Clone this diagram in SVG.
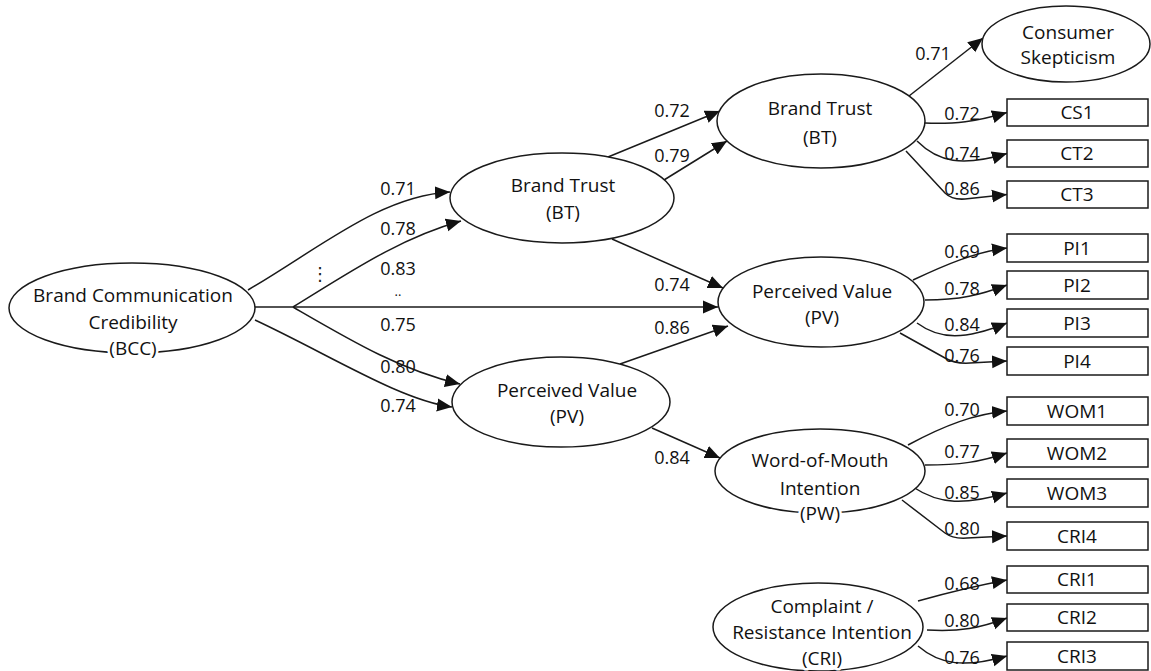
<svg xmlns="http://www.w3.org/2000/svg" width="1151" height="671" viewBox="0 0 1151 671">
<style>
.n ellipse,.n rect{fill:#fff;stroke:#1a1a1a;stroke-width:1.5}
.t{font-family:"Open Sans","Noto Sans",sans-serif;font-size:19px;fill:#111;text-anchor:middle}
.h{stroke:#fff;stroke-width:5;paint-order:stroke;stroke-linejoin:round}
.c path{fill:none;stroke:#1a1a1a;stroke-width:1.5}
.l{font-family:"Open Sans","Noto Sans",sans-serif;font-size:18px;fill:#111;text-anchor:middle}
</style>
<defs>
<marker id="ah" markerUnits="userSpaceOnUse" markerWidth="16" markerHeight="14" refX="15" refY="7" orient="auto">
<path d="M0,0.5 L15,7 L0,13.5 z" fill="#111"/>
</marker>
</defs>
<rect width="1151" height="671" fill="#fff"/>

<g id="connectors" class="c">
<path d="M248,290 C320,248 380,196 450,192" marker-end="url(#ah)"/>
<path d="M293,307 C350,272 400,238 461,221" marker-end="url(#ah)"/>
<path d="M255,307 L718,307" marker-end="url(#ah)"/>
<path d="M293,307 C350,340 400,370 460,384" marker-end="url(#ah)"/>
<path d="M255,320 C330,355 400,400 452,407" marker-end="url(#ah)"/>
<path d="M608,157 L720,111" marker-end="url(#ah)"/>
<path d="M664,180 L727,141" marker-end="url(#ah)"/>
<path d="M612,239 L723,288" marker-end="url(#ah)"/>
<path d="M620,364 L728,326" marker-end="url(#ah)"/>
<path d="M652,428 L720,458" marker-end="url(#ah)"/>
<path d="M909,96 L983,38" marker-end="url(#ah)"/>
<path d="M925,123 C955,124 975,122 1007,112.5" marker-end="url(#ah)"/>
<path d="M917,141 C938,162 962,167 1007,153.5" marker-end="url(#ah)"/>
<path d="M906,151 L945,193 Q952,200 965,199 L1007,194.5" marker-end="url(#ah)"/>
<path d="M913,280 C945,265 975,252 1007,248" marker-end="url(#ah)"/>
<path d="M925,300 C960,300 980,295 1007,285" marker-end="url(#ah)"/>
<path d="M917,323 C940,340 965,340 1007,323" marker-end="url(#ah)"/>
<path d="M900,333 L945,358 Q955,364 970,363 L1007,361" marker-end="url(#ah)"/>
<path d="M908,445 C945,425 975,414 1007,411" marker-end="url(#ah)"/>
<path d="M925,465 C960,465 980,462 1007,453" marker-end="url(#ah)"/>
<path d="M913,487 C940,505 965,505 1007,493" marker-end="url(#ah)"/>
<path d="M902,500 L945,533 Q953,539 967,538 L1007,536" marker-end="url(#ah)"/>
<path d="M918,601 C950,592 980,585 1007,580" marker-end="url(#ah)"/>
<path d="M927,630 C960,632 980,628 1007,618" marker-end="url(#ah)"/>
<path d="M918,646 C940,665 965,668 1007,656" marker-end="url(#ah)"/>
</g>

<g id="labels">
<text class="l" x="398" y="195">0.71</text>
<text class="l" x="398" y="235">0.78</text>
<text class="l" x="398" y="275">0.83</text>
<text class="l" x="398" y="296" style="font-size:13px">..</text>
<text class="l" x="398" y="331">0.75</text>
<text class="l" x="398" y="373">0.80</text>
<text class="l" x="398" y="412">0.74</text>
<text x="320" y="280" style="font-family:'DejaVu Sans',sans-serif;font-size:18px;fill:#1a1a1a;text-anchor:middle">⋮</text>
<text class="l" x="672" y="117">0.72</text>
<text class="l" x="672" y="162">0.79</text>
<text class="l" x="672" y="291">0.74</text>
<text class="l" x="672" y="334">0.86</text>
<text class="l" x="672" y="464">0.84</text>
<text class="l" x="933" y="60">0.71</text>
<text class="l" x="962" y="120">0.72</text>
<text class="l" x="962" y="160">0.74</text>
<text class="l" x="962" y="195">0.86</text>
<text class="l" x="962" y="258">0.69</text>
<text class="l" x="962" y="295">0.78</text>
<text class="l" x="962" y="331">0.84</text>
<text class="l" x="962" y="362">0.76</text>
<text class="l" x="962" y="416">0.70</text>
<text class="l" x="962" y="458">0.77</text>
<text class="l" x="962" y="499">0.85</text>
<text class="l" x="962" y="535">0.80</text>
<text class="l" x="962" y="590">0.68</text>
<text class="l" x="962" y="627">0.80</text>
<text class="l" x="962" y="664">0.76</text>
</g>

<g id="BCC" class="n">
<ellipse cx="132" cy="308" rx="123" ry="45"/>
<text class="t h" x="133" y="302">Brand Communication</text>
<text class="t h" x="133" y="329">Credibility</text>
<text class="t h" x="133" y="355">(BCC)</text>
</g>
<g id="BT1" class="n">
<ellipse cx="562" cy="198" rx="112" ry="45"/>
<text class="t h" x="563" y="192">Brand Trust</text>
<text class="t h" x="563" y="219">(BT)</text>
</g>
<g id="PV1" class="n">
<ellipse cx="561" cy="402" rx="109" ry="45"/>
<text class="t h" x="567" y="397">Perceived Value</text>
<text class="t h" x="567" y="423">(PV)</text>
</g>
<g id="BT2" class="n">
<ellipse cx="821" cy="121" rx="104" ry="47"/>
<text class="t h" x="820" y="115">Brand Trust</text>
<text class="t h" x="820" y="144">(BT)</text>
</g>
<g id="CSK" class="n">
<ellipse cx="1066" cy="44" rx="84" ry="38"/>
<text class="t h" x="1068" y="39">Consumer</text>
<text class="t h" x="1068" y="64">Skepticism</text>
</g>
<g id="PV2" class="n">
<ellipse cx="821" cy="302" rx="103" ry="45"/>
<text class="t h" x="822" y="298">Perceived Value</text>
<text class="t h" x="822" y="324">(PV)</text>
</g>
<g id="PW" class="n">
<ellipse cx="820" cy="471" rx="105" ry="42"/>
<text class="t h" x="820" y="467">Word-of-Mouth</text>
<text class="t h" x="820" y="495">Intention</text>
<text class="t h" x="820" y="520">(PW)</text>
</g>
<g id="CRI" class="n">
<ellipse cx="818" cy="627" rx="105" ry="44"/>
<text class="t h" x="822" y="613">Complaint /</text>
<text class="t h" x="822" y="639">Resistance Intention</text>
<text class="t h" x="822" y="665">(CRI)</text>
</g>

<g id="CS1" class="n"><rect x="1007" y="99" width="141" height="27"/><text class="t" x="1077" y="119">CS1</text></g>
<g id="CT2" class="n"><rect x="1007" y="140" width="141" height="27"/><text class="t" x="1077" y="160">CT2</text></g>
<g id="CT3" class="n"><rect x="1007" y="181" width="141" height="27"/><text class="t" x="1077" y="201">CT3</text></g>
<g id="PI1" class="n"><rect x="1007" y="234" width="141" height="28"/><text class="t" x="1077" y="255">PI1</text></g>
<g id="PI2" class="n"><rect x="1007" y="271" width="141" height="28"/><text class="t" x="1077" y="292">PI2</text></g>
<g id="PI3" class="n"><rect x="1007" y="309" width="141" height="28"/><text class="t" x="1077" y="330">PI3</text></g>
<g id="PI4" class="n"><rect x="1007" y="347" width="141" height="28"/><text class="t" x="1077" y="368">PI4</text></g>
<g id="WOM1" class="n"><rect x="1007" y="397" width="141" height="28"/><text class="t" x="1077" y="418">WOM1</text></g>
<g id="WOM2" class="n"><rect x="1007" y="439" width="141" height="28"/><text class="t" x="1077" y="460">WOM2</text></g>
<g id="WOM3" class="n"><rect x="1007" y="479" width="141" height="28"/><text class="t" x="1077" y="500">WOM3</text></g>
<g id="CRI4" class="n"><rect x="1007" y="522" width="141" height="28"/><text class="t" x="1077" y="543">CRI4</text></g>
<g id="CRI1" class="n"><rect x="1007" y="566" width="141" height="27"/><text class="t" x="1077" y="586">CRI1</text></g>
<g id="CRI2" class="n"><rect x="1007" y="604" width="141" height="27"/><text class="t" x="1077" y="624">CRI2</text></g>
<g id="CRI3" class="n"><rect x="1007" y="642" width="141" height="28"/><text class="t" x="1077" y="663">CRI3</text></g>
</svg>
